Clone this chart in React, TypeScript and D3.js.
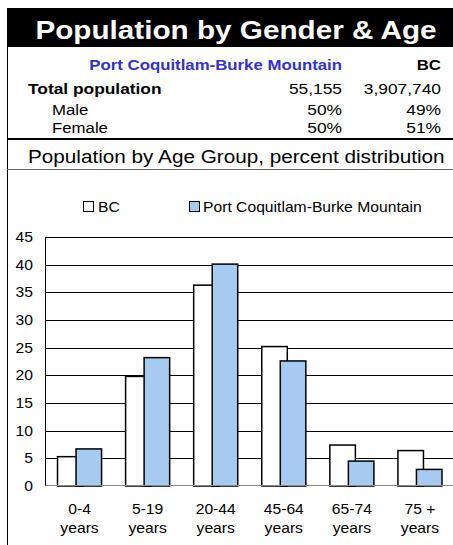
import React from "react";
import * as d3 from "d3";

const categories = ["0-4|years", "5-19|years", "20-44|years", "45-64|years", "65-74|years", "75 +|years"];
const bcValues = [5.3, 19.8, 36.3, 25.2, 7.4, 6.4];
const pcValues = [6.7, 23.2, 40.1, 22.6, 4.5, 3.0];
const yTicks = [0, 5, 10, 15, 20, 25, 30, 35, 40, 45];
const seriesNames = ["BC", "Port Coquitlam-Burke Mountain"];
const tableRows = [
  { label: "Total population", pc: "55,155", bc: "3,907,740", bold: true },
  { label: "Male", pc: "50%", bc: "49%", bold: false },
  { label: "Female", pc: "50%", bc: "51%", bold: false },
];

const W = 453;
const H = 545;
const FONT = "Arial, 'Liberation Sans', Helvetica, sans-serif";
const BLUE = "#A6CAF0";
const SX = 1.12;

function T(props: any) {
  const { x, y, sx = SX, children, ...rest } = props;
  return (
    <text transform={`translate(${x},${y}) scale(${sx},1)`} {...rest}>
      {children}
    </text>
  );
}

export default function App() {
  const left = 45.5;
  const right = 454;
  const top = 237;
  const bottom = 486;
  const x = d3.scaleBand<string>().domain(categories).range([left, right]).paddingInner(24 / 68).paddingOuter(12 / 68);
  const y = d3.scaleLinear().domain([0, 45]).range([bottom, top]);
  const bw = x.bandwidth();
  const overlap = 7;
  const barW = (bw + overlap) / 2;

  const rowY = [94, 115, 133];
  return (
    <div style={{ position: "absolute", left: 0, top: 0 }}>
      <svg width={W} height={H} style={{ display: "block", fontFamily: FONT }}>
        <rect x={0} y={0} width={W} height={H} fill="#fff" />
        {/* header band */}
        <rect x={7} y={8} width={W - 7} height={39} fill="#000" />
        <T x={236} y={39} textAnchor="middle" fill="#fff" fontWeight="bold" fontSize={26.5}>
          Population by Gender &amp; Age
        </T>
        {/* left border */}
        <line x1={7.5} y1={47} x2={7.5} y2={H} stroke="#000" strokeWidth={1} />
        {/* table */}
        <T x={342} y={70} textAnchor="end" fill="#3333CC" fontWeight="bold" fontSize={15}>
          Port Coquitlam-Burke Mountain
        </T>
        <T x={441} y={70} textAnchor="end" fill="#000" fontWeight="bold" fontSize={15}>
          BC
        </T>
        {tableRows.map((r, i) => (
          <g key={r.label} fontSize={15.5}>
            <T x={r.bold ? 28 : 52} y={rowY[i]} fontWeight={r.bold ? "bold" : "normal"} fontSize={r.bold ? 15.5 : 15} fill="#000">
              {r.label}
            </T>
            <T x={342} y={rowY[i]} textAnchor="end" fill="#000">{r.pc}</T>
            <T x={441} y={rowY[i]} textAnchor="end" fill="#000">{r.bc}</T>
          </g>
        ))}
        <line x1={7} y1={139} x2={W} y2={139} stroke="#000" strokeWidth={2} />
        <T x={28} y={163} fontSize={18.5} fill="#000">Population by Age Group, percent distribution</T>
        <line x1={7} y1={169.5} x2={W} y2={169.5} stroke="#666" strokeWidth={1} />

        {/* legend */}
        <rect x={83.5} y={201.5} width={10} height={10} fill="#fff" stroke="#000" strokeWidth={1} />
        <T x={98} y={212} fontSize={14} fill="#000">{seriesNames[0]}</T>
        <rect x={189.5} y={201.5} width={10} height={10} fill={BLUE} stroke="#000" strokeWidth={1} />
        <T x={203} y={212} fontSize={14} fill="#000">{seriesNames[1]}</T>

        {/* gridlines */}
        {yTicks.map((t) => (
          <g key={t}>
            {t !== 0 && (
              <line x1={left} x2={W} y1={Math.round(y(t)) + 0.5} y2={Math.round(y(t)) + 0.5} stroke="#000" strokeWidth={1} />
            )}
            <T x={33} y={y(t) + 5} textAnchor="end" fontSize={14} fill="#000">{t}</T>
          </g>
        ))}
        <line x1={left} x2={left} y1={top} y2={bottom} stroke="#000" strokeWidth={1} />

        {/* bars */}
        {categories.map((c, i) => {
          const x0 = x(c)!;
          return (
            <g key={c}>
              <rect x={x0} y={y(bcValues[i])} width={barW} height={bottom - y(bcValues[i])} fill="#fff" stroke="#000" strokeWidth={1.5} />
              <rect x={x0 + barW - overlap} y={y(pcValues[i])} width={barW} height={bottom - y(pcValues[i])} fill={BLUE} stroke="#000" strokeWidth={1.5} />
            </g>
          );
        })}
        <line x1={left} x2={W} y1={bottom - 0.5} y2={bottom - 0.5} stroke="#888" strokeWidth={1} />

        {/* x labels */}
        {categories.map((c) => {
          const [a, b] = c.split("|");
          const cx = x(c)! + bw / 2;
          return (
            <g key={c}>
              <T x={cx} y={514} fontSize={14} fill="#000" textAnchor="middle">{a}</T>
              <T x={cx} y={533} fontSize={14} fill="#000" textAnchor="middle">{b}</T>
            </g>
          );
        })}
      </svg>
    </div>
  );
}
